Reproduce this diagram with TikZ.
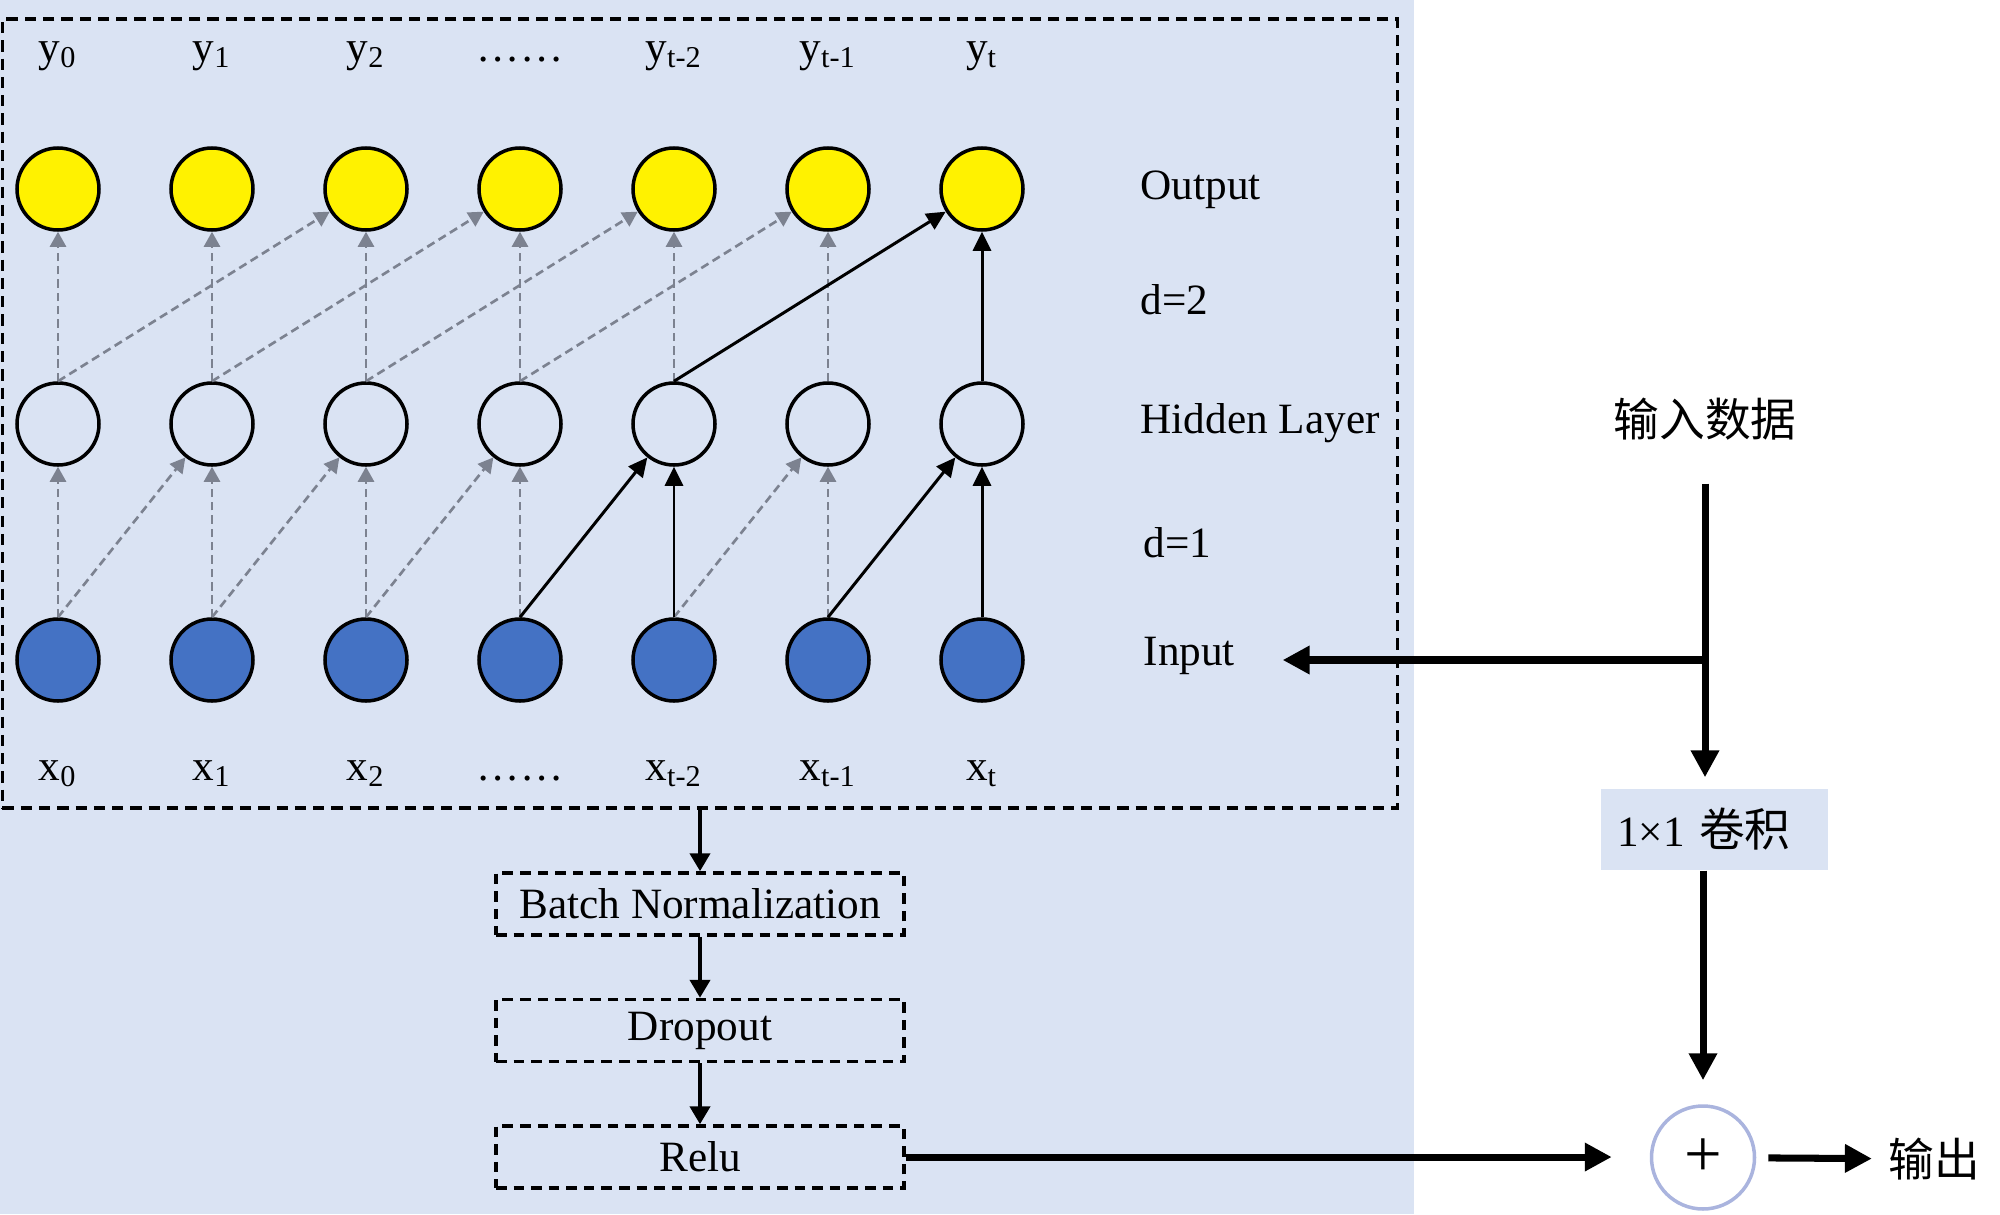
\documentclass[tikz,border=0pt]{standalone}
\usepackage{fontspec}
\setmainfont{Liberation Serif}
\newfontfamily\cjk{Noto Sans CJK SC}
\usepackage{tikz}
\usetikzlibrary{positioning}
\usetikzlibrary{arrows.meta}
\definecolor{bgblue}{RGB}{218,227,243}
\definecolor{nodeblue}{RGB}{68,114,196}
\definecolor{arrgray}{RGB}{124,130,144}
\definecolor{ringblue}{RGB}{170,180,222}
\tikzset{
neuron/.style={circle, draw, line width=1pt, minimum size=0.82cm, inner sep=0pt},
outnode/.style={neuron, fill=yellow},
hidnode/.style={neuron},
innode/.style={neuron, fill=nodeblue},
lab/.style={inner sep=0pt},
grayarr/.style={arrgray, line width=0.75pt, dash pattern=on 2.4pt off 1.4pt, -{Triangle[length=0.15cm,width=0.16cm]}},
blackarr/.style={black, line width=0.85pt, -{Triangle[length=0.19cm,width=0.18cm]}},
midarr/.style={line width=1.2pt, -{Triangle[length=0.18cm,width=0.2cm]}},
bigline/.style={line width=2pt},
bigarr/.style={line width=2pt, -{Triangle[length=0.27cm,width=0.27cm]}},
layerbox/.style={draw, line width=1pt, dash pattern=on 3pt off 2pt, minimum width=4.08cm, minimum height=0.62cm},
}

\begin{document}
\begin{tikzpicture}[font=\fontsize{12.3}{14.8}\selectfont]
\useasboundingbox (0,0) rectangle (20,12.14);
\fill[bgblue] (0,0) rectangle (14.14,12.14);
\node[draw, line width=0.9pt, dash pattern=on 3.2pt off 2pt, minimum width=13.95cm, minimum height=7.89cm] (netbox) at (7.0,8.005) {};

\foreach \i in {0,...,6}{
\node[outnode] (o\i) at ({0.58+1.54*\i},10.25) {};
\node[hidnode] (h\i) at ({0.58+1.54*\i},7.90) {};
\node[innode] (in\i) at ({0.58+1.54*\i},5.54) {};
}
\foreach \i/\s in {0/0,1/1,2/2,4/t-2,5/t-1,6/t}{
\node[lab, anchor=base] (ylab\i) at ({0.58+1.54*\i},11.525) {y\textsubscript{\s}};
\node[lab, anchor=base] (xlab\i) at ({0.58+1.54*\i},4.34) {x\textsubscript{\s}};
}
\node[lab, anchor=base] (ylab3) at (5.20,11.525) {……};
\node[lab, anchor=base] (xlab3) at (5.20,4.34) {……};

% d=1
\foreach \i in {0,1,2,3,5}{
\draw[grayarr] (in\i.north) -- (h\i);
}
\foreach \i/\j in {0/1,1/2,2/3,4/5}{
\draw[grayarr] (in\i.north) -- (h\j);
}
\draw[blackarr] (in3.north) -- (h4);
\draw[blackarr] (in4.north) -- (h4);
\draw[blackarr] (in5.north) -- (h6);
\draw[blackarr] (in6.north) -- (h6);

% d=2
\foreach \i in {0,...,5}{
\draw[grayarr] (h\i.north) -- (o\i);
}
\foreach \i/\j in {0/2,1/3,2/4,3/5}{
\draw[grayarr] (h\i.north) -- (o\j);
}
\draw[blackarr] (h4.north) -- (o6);
\draw[blackarr] (h6.north) -- (o6);

\node[lab, anchor=base west] (outlab) at (11.40,10.15) {Output};
\node[lab, anchor=base west] (d2lab) at (11.40,9.00) {d=2};
\node[lab, anchor=base west] (hidlab) at (11.40,7.81) {Hidden Layer};
\node[lab, anchor=base west] (d1lab) at (11.43,6.57) {d=1};
\node[lab, anchor=base west] (inlab) at (11.43,5.49) {Input};

\node[layerbox] (bn) at (7.0,3.10) {Batch Normalization};
\node[layerbox, below=0.61cm of bn] (drop) {Dropout};
\node[layerbox, below=0.61cm of drop] (relu) {Relu};
\draw[midarr] (netbox.south) -- (bn.north);
\draw[midarr] (bn) -- (drop);
\draw[midarr] (drop) -- (relu);

\node (data) at (17.05,7.95) {\cjk\fontsize{13}{15}\selectfont 输入数据};
\coordinate (split) at (17.05,5.54);
\node[fill=bgblue, minimum height=0.81cm, inner xsep=0.16cm, text width=1.95cm, align=left] (conv) at (17.145,3.845) {1×1 {\cjk\fontsize{13}{15}\selectfont 卷积}};
\node[circle, draw=ringblue, line width=1pt, minimum size=1.03cm, inner sep=0pt] (plus) at (17.03,0.565) {\fontsize{19}{19}\selectfont +};
\node (outtxt) at (19.34,0.55) {\cjk\fontsize{13}{15}\selectfont 输出};

\draw[bigline, shorten <=0.31cm] (data.south -| split) -- (split);
\draw[bigarr, shorten >=0.11cm] (split) -- (split |- conv.north);
\draw[bigarr, shorten >=0.47cm] (split) -- (split -| inlab.east);
\draw[bigarr, shorten >=0.24cm] (plus.north |- conv.south) -- (plus.north);
\draw[bigarr, shorten >=0.38cm] (relu.east) -- (relu.east -| plus.west);
\draw[bigarr, shorten <=0.12cm, shorten >=0.04cm] (plus) -- (outtxt);
\end{tikzpicture}
\end{document}
